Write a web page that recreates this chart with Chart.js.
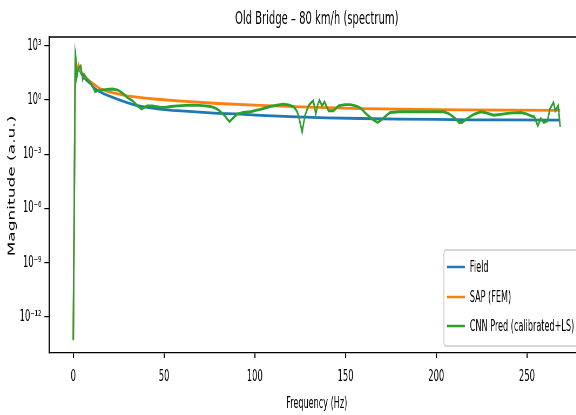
<!DOCTYPE html>
<html>
<head>
<meta charset="utf-8">
<script src="https://cdn.jsdelivr.net/npm/chart.js@4.4.1/dist/chart.umd.min.js"></script>
<style>
html,body{margin:0;padding:0;overflow:hidden;background:#fff;width:576px;height:415px;}
#wrap{position:absolute;left:0;top:0;width:1100px;height:415px;transform:scale(0.54,1);transform-origin:0 0;}
canvas{display:block;}
</style>
</head>
<body>
<div id="wrap"><canvas id="c" width="1100" height="415"></canvas></div>
<script>
// ---- data ----
const chartTitle = 'Old Bridge \u2013 80 km/h (spectrum)';
const xTitle = 'Frequency (Hz)';
const yTitle = 'Magnitude (a.u.)';
const seriesNames = ['Field', 'SAP (FEM)', 'CNN Pred (calibrated+LS)'];
const seriesColors = ['#1f77b4', '#ff7f0e', '#2ca02c'];

const xTicks = [0, 50, 100, 150, 200, 250];
const yTicks = [1e3, 1e0, 1e-3, 1e-6, 1e-9, 1e-12];
const yTickLabels = ['10\u00b3', '10\u2070', '10\u207b\u00b3', '10\u207b\u2076', '10\u207b\u2079', '10\u207b\u00b9\u00b2'];

const freqField = [0,1.1,2.1,3.1,4.6,6.1,7.6,9.6,11.6,13.6,16.6,19.6,24.6,29.6,34.6,40.6,47.6,54.6,61.6,69.6,79.6,89.6,103.1,119.6,139.6,158.3,179.6,199.6,219.6,239.6,268.3];
const magField  = [5.4e-14,320,40,50,25,16,11,7.6,4.5,3.2,2.2,1.66,1.05,0.71,0.5,0.38,0.31,0.26,0.24,0.21,0.18,0.166,0.14,0.118,0.102,0.093,0.087,0.083,0.079,0.078,0.076];

const freqSAP = [0,1.1,2.1,2.8,3.6,4.6,6.6,9.6,14.6,19.6,29.6,39.6,47.6,59.6,79.6,103.1,129.6,158.3,189.6,213.6,239.6,268.3];
const magSAP  = [5.0e-14,200,40,93,50,32,17.8,10,4.2,2.8,1.66,1.26,1.05,0.85,0.63,0.5,0.4,0.33,0.30,0.28,0.27,0.26];

const freqCNN = [0,1.1,1.9,2.8,4.1,5.2,5.9,7.6,9.3,10.6,12.0,13.6,15.6,18.6,21.6,24.6,27.6,29.6,32.6,35.6,37.6,40.6,43.6,47.6,50.6,53.6,57.6,61.6,66.1,69.6,72.6,75.6,78.6,80.6,83.6,86.0,88.1,90.2,93.6,97.6,100.6,103.1,105.6,108.6,111.6,115.6,118.6,121.3,123.1,124.1,126.1,127.6,129.6,131.1,132.3,133.6,134.6,135.6,137.1,138.4,140.6,143.4,146.1,149.6,152.6,155.6,158.3,161.6,164.6,167.6,170.2,172.6,174.6,179.6,185.6,194.6,204.1,206.6,208.6,210.6,212.6,214.1,217.1,220.6,224.6,227.6,231.6,235.6,239.2,242.6,246.6,249.6,252.6,254.1,256.0,257.6,259.3,261.3,262.6,264.6,265.6,267.2,268.3];
const magCNN  = [5.4e-14,560,17.8,56,76,13.8,26,14.1,9.1,5.6,2.8,3.2,3.5,3.8,4.0,3.5,2.2,1.4,0.89,0.45,0.31,0.47,0.47,0.40,0.38,0.43,0.47,0.50,0.51,0.50,0.47,0.43,0.34,0.25,0.126,0.062,0.10,0.162,0.20,0.22,0.26,0.30,0.355,0.43,0.50,0.575,0.525,0.43,0.25,0.132,0.017,0.132,0.47,0.71,0.89,0.162,0.50,0.95,0.47,0.78,0.25,0.25,0.47,0.54,0.54,0.47,0.355,0.162,0.089,0.056,0.085,0.141,0.20,0.22,0.22,0.22,0.22,0.178,0.132,0.089,0.056,0.056,0.093,0.158,0.22,0.19,0.141,0.158,0.178,0.19,0.20,0.166,0.126,0.115,0.037,0.093,0.056,0.069,0.31,0.71,0.25,0.47,0.032];

// ---- build ----
const FONT = '"DejaVu Sans", "Liberation Sans", sans-serif';
function pts(xs, ys){ return xs.map((x, i) => ({x: x, y: ys[i]})); }

const frame = {
  id: 'frame',
  afterDatasetsDraw(chart){
    const {ctx, chartArea: a} = chart;
    ctx.save();
    ctx.strokeStyle = '#000';
    ctx.lineWidth = 1.3;
    ctx.beginPath(); ctx.moveTo(a.left, a.top); ctx.lineTo(a.right, a.top); ctx.stroke();
    ctx.lineWidth = 2.4;
    ctx.beginPath(); ctx.moveTo(a.right, a.top); ctx.lineTo(a.right, a.bottom); ctx.stroke();
    ctx.restore();
  }
};

const yTitleShift = {
  id: 'yTitleShift',
  afterLayout(chart){
    const s = chart.scales.y;
    if (s && !s._origDrawTitle){
      s._origDrawTitle = s.drawTitle;
      s.drawTitle = function(){
        const t = this.top, b = this.bottom;
        this.top = t - 9; this.bottom = b - 9;
        this._origDrawTitle();
        this.top = t; this.bottom = b;
      };
    }
  }
};

const mplLegend = {
  id: 'mplLegend',
  afterDraw(chart){
    const {ctx, chartArea: a} = chart;
    const x0 = 822, y0 = 250, x1 = a.right - 9, y1 = a.bottom - 7, r = 4;
    ctx.save();
    ctx.beginPath();
    ctx.moveTo(x0 + r, y0); ctx.lineTo(x1 - r, y0); ctx.quadraticCurveTo(x1, y0, x1, y0 + r);
    ctx.lineTo(x1, y1 - r); ctx.quadraticCurveTo(x1, y1, x1 - r, y1);
    ctx.lineTo(x0 + r, y1); ctx.quadraticCurveTo(x0, y1, x0, y1 - r);
    ctx.lineTo(x0, y0 + r); ctx.quadraticCurveTo(x0, y0, x0 + r, y0);
    ctx.closePath();
    ctx.fillStyle = 'rgba(255,255,255,0.8)'; ctx.fill();
    ctx.strokeStyle = '#cccccc'; ctx.lineWidth = 1.7; ctx.stroke();
    const rows = [y0 + 17, y0 + 47, y0 + 76];
    chart.data.datasets.forEach((ds, i) => {
      const y = rows[i];
      ctx.strokeStyle = ds.borderColor; ctx.lineWidth = 2.7;
      ctx.beginPath(); ctx.moveTo(x0 + 5.6, y); ctx.lineTo(x0 + 38.9, y); ctx.stroke();
      ctx.fillStyle = '#000';
      ctx.font = '15px ' + FONT;
      ctx.textBaseline = 'middle'; ctx.textAlign = 'left';
      ctx.fillText(ds.label, x0 + 48, y + 1);
    });
    ctx.restore();
  }
};

new Chart(document.getElementById('c'), {
  type: 'line',
  data: {
    datasets: [
      {label: seriesNames[0], data: pts(freqField, magField), borderColor: seriesColors[0], order: 3},
      {label: seriesNames[1], data: pts(freqSAP, magSAP), borderColor: seriesColors[1], order: 2},
      {label: seriesNames[2], data: pts(freqCNN, magCNN), borderColor: seriesColors[2], order: 1}
    ].map(d => Object.assign(d, {borderWidth: 2.8, pointRadius: 0, tension: 0, fill: false, backgroundColor: d.borderColor}))
  },
  options: {
    responsive: false,
    animation: false,
    devicePixelRatio: 1,
    layout: {padding: {left: 0, right: 17.6, top: 0, bottom: 0}},
    plugins: {
      legend: {display: false},
      tooltip: {enabled: false},
      title: {
        display: true, text: chartTitle, fullSize: false, color: '#000',
        font: {family: FONT, size: 18.5, weight: 'normal', lineHeight: 1.2},
        padding: {top: 8, bottom: 6.8}
      }
    },
    scales: {
      x: {
        type: 'linear', min: -13.4, max: 281.7,
        afterFit(s){ s.height = 62; },
        afterBuildTicks(s){ s.ticks = xTicks.map(v => ({value: v})); },
        ticks: {color: '#000', font: {family: FONT, size: 15.5}, padding: 10, autoSkip: false, maxRotation: 0},
        grid: {display: true, drawOnChartArea: false, drawTicks: true, tickLength: 5, lineWidth: 2.1, tickWidth: 2.1, tickColor: '#000'},
        border: {display: true, color: '#000', width: 1.3},
        title: {display: true, text: xTitle, color: '#000', font: {family: FONT, size: 15, lineHeight: 1.2}, padding: {top: 0, bottom: 2}}
      },
      y: {
        type: 'logarithmic', min: 1e-14, max: 3e3,
        afterFit(s){ s.width = 90.7; },
        afterBuildTicks(s){ s.ticks = yTicks.map(v => ({value: v})); },
        ticks: {
          color: '#000', font: {family: FONT, size: 15.5}, padding: 5.6, autoSkip: false,
          callback(value){
            const i = yTicks.findIndex(t => Math.abs(Math.log10(t) - Math.log10(value)) < 1e-6);
            return i >= 0 ? yTickLabels[i] : '';
          }
        },
        grid: {display: true, drawOnChartArea: false, drawTicks: true, tickLength: 8.5, lineWidth: 1.2, tickWidth: 1.2, tickColor: '#000'},
        border: {display: true, color: '#000', width: 2.4},
        title: {display: true, text: yTitle, color: '#000', font: {family: FONT, size: 17, lineHeight: 1.2}, padding: {top: 12, bottom: 0}}
      }
    }
  },
  plugins: [frame, yTitleShift, mplLegend]
});
</script>
</body>
</html>
